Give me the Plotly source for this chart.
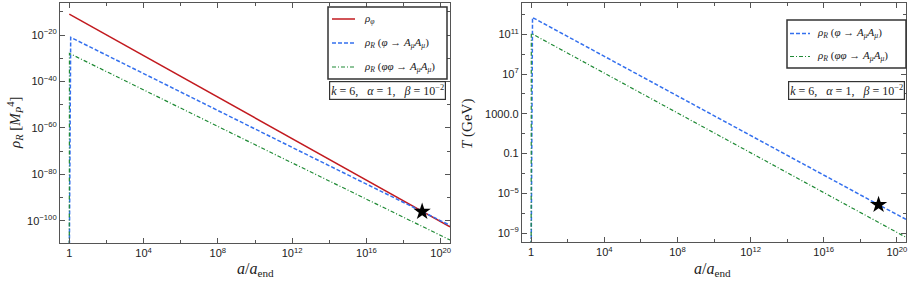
import plotly.graph_objects as go
from plotly.subplots import make_subplots

# ---------------- data ----------------
# left panel: energy densities [M_P^4] vs a/a_end
a_phi = [1.0, 10**20.5]
rho_phi = [1e-11, 10**-102.6]

a_R1 = [1.0, 1.19, 10**12.3, 1e19, 10**20.5]
rho_R1 = [1e-118, 1e-21, 10**-69.6, 10**-96.1, 10**-102.0]

a_R2 = [1.0, 1.02, 10**10.6, 10**20.5]
rho_R2 = [1e-118, 10**-27.9, 10**-69.6, 10**-108.3]

star_a_left = [1e19]
star_rho_left = [10**-96.1]

# right panel: temperature [GeV] vs a/a_end
a_T1 = [1.0, 1.19, 1e19, 10**20.5]
T_R1 = [1e-12, 10**12.7, 10**-6.15, 10**-7.62]

a_T2 = [1.0, 1.02, 10**20.5]
T_R2 = [1e-12, 10**11.1, 10**-9.43]

star_a_right = [1e19]
star_T_right = [10**-6.15]

# tick labels
x_tickvals = [1, 1e4, 1e8, 1e12, 1e16, 1e20]
x_ticktext = ["1", "10<sup>4</sup>", "10<sup>8</sup>", "10<sup>12</sup>", "10<sup>16</sup>", "10<sup>20</sup>"]
x_minor = [1e2, 1e6, 1e10, 1e14, 1e18]

yl_tickvals = [1e-20, 1e-40, 1e-60, 1e-80, 1e-100]
yl_ticktext = ["10<sup>−20</sup>", "10<sup>−40</sup>", "10<sup>−60</sup>", "10<sup>−80</sup>", "10<sup>−100</sup>"]
yl_minor = [1e-10, 1e-30, 1e-50, 1e-70, 1e-90]

yr_tickvals = [1e11, 1e7, 1e3, 1e-1, 1e-5, 1e-9]
yr_ticktext = ["10<sup>11</sup>", "10<sup>7</sup>", "1000.0", "0.1", "10<sup>−5</sup>", "10<sup>−9</sup>"]
yr_minor = [1e13, 1e9, 1e5, 1e1, 1e-3, 1e-7]

# ---------------- styling ----------------
RED = "#c21a1f"
BLUE = "#3470ee"
GREEN = "#1f8a35"
SERIF = "Liberation Serif, DejaVu Serif, serif"
SANS = "Liberation Sans, Arial, sans-serif"
FRAME = "#555555"
DASH_B = "4px,2px"
DASH_G = "4px,2px,1px,2px"

lab_phi = "<i>ρ</i><sub><i>φ</i></sub>"
lab_R1 = "<i>ρ</i><sub><i>R</i></sub> (<i>φ</i> → <i>A</i><sub><i>μ</i></sub><i>A</i><sub><i>μ</i></sub>)"
lab_R2 = "<i>ρ</i><sub><i>R</i></sub> (<i>φφ</i> → <i>A</i><sub><i>μ</i></sub><i>A</i><sub><i>μ</i></sub>)"

fig = make_subplots(rows=1, cols=2)

fig.add_trace(go.Scatter(x=a_phi, y=rho_phi, mode="lines", name=lab_phi,
                         line=dict(color=RED, width=1.5)), 1, 1)
fig.add_trace(go.Scatter(x=a_R1, y=rho_R1, mode="lines", name=lab_R1,
                         line=dict(color=BLUE, width=1.5, dash=DASH_B)), 1, 1)
fig.add_trace(go.Scatter(x=a_R2, y=rho_R2, mode="lines", name=lab_R2,
                         line=dict(color=GREEN, width=1.2, dash=DASH_G)), 1, 1)
fig.add_trace(go.Scatter(x=star_a_left, y=star_rho_left, mode="markers",
                         marker=dict(symbol="star", size=13, color="black")), 1, 1)

fig.add_trace(go.Scatter(x=a_T1, y=T_R1, mode="lines", name=lab_R1,
                         line=dict(color=BLUE, width=1.5, dash=DASH_B)), 1, 2)
fig.add_trace(go.Scatter(x=a_T2, y=T_R2, mode="lines", name=lab_R2,
                         line=dict(color=GREEN, width=1.2, dash=DASH_G)), 1, 2)
fig.add_trace(go.Scatter(x=star_a_right, y=star_T_right, mode="markers",
                         marker=dict(symbol="star", size=13, color="black")), 1, 2)

W, H = 910, 286
def px(x):
    return x / W
def py(y):
    return 1 - y / H

axis_common = dict(type="log", showgrid=False, zeroline=False, showline=True,
                   linecolor=FRAME, linewidth=1.2, mirror="allticks",
                   ticks="inside", ticklen=5, tickcolor=FRAME, tickwidth=1,
                   tickfont=dict(family=SANS, size=11, color="#222"),
                   tickmode="array")

xa = dict(axis_common, range=[-0.5, 20.5], tickvals=x_tickvals, ticktext=x_ticktext,
          minor=dict(tickmode="array", tickvals=x_minor, ticks="inside", ticklen=3, tickcolor=FRAME))
fig.update_xaxes(**xa, domain=[px(60), px(450)], row=1, col=1)
fig.update_xaxes(**xa, domain=[px(522), px(906)], row=1, col=2)

fig.update_yaxes(**axis_common, range=[-109.6, -6.2], tickvals=yl_tickvals, ticktext=yl_ticktext,
                 minor=dict(tickmode="array", tickvals=yl_minor, ticks="inside", ticklen=3, tickcolor=FRAME),
                 domain=[py(243), py(3)], row=1, col=1)
fig.update_yaxes(**axis_common, range=[-9.9, 14.16], tickvals=yr_tickvals, ticktext=yr_ticktext,
                 minor=dict(tickmode="array", tickvals=yr_minor, ticks="inside", ticklen=3, tickcolor=FRAME),
                 domain=[py(242), py(3)], row=1, col=2)

# ---------------- hand-drawn legends ----------------
shapes = []
annotations = []

def legend_box(x0, x1, y0, y1, entries, sx0, sx1, tx):
    shapes.append(dict(type="rect", xref="paper", yref="paper",
                       x0=px(x0), x1=px(x1), y0=py(y1), y1=py(y0),
                       line=dict(color="#333", width=1.5), fillcolor="white", layer="above"))
    for (yy, color, width, dash, label) in entries:
        shapes.append(dict(type="line", xref="paper", yref="paper",
                           x0=px(sx0), x1=px(sx1), y0=py(yy), y1=py(yy),
                           line=dict(color=color, width=width, dash=dash), layer="above"))
        annotations.append(dict(text=label, x=px(tx), y=py(yy), xref="paper", yref="paper",
                                xanchor="left", yanchor="middle", showarrow=False,
                                font=dict(family=SERIF, size=11, color="#222")))

legend_box(328, 447, 7, 79,
           [(19, RED, 1.5, "solid", lab_phi),
            (43, BLUE, 1.5, DASH_B, lab_R1),
            (67, GREEN, 1.2, DASH_G, lab_R2)],
           332, 355, 362)
legend_box(787, 906, 20, 68,
           [(33.5, BLUE, 1.5, DASH_B, lab_R1),
            (56.5, GREEN, 1.2, DASH_G, lab_R2)],
           790, 810, 815)

params = "<i>k</i> = 6,   <i>α</i> = 1,   <i>β</i> = 10<sup>−2</sup>"
for (cx, cy) in [(387.5, 90.5), (846.5, 90.7)]:
    annotations.append(dict(text=params, x=px(cx), y=py(cy), xref="paper", yref="paper",
                            xanchor="center", yanchor="middle",
                            showarrow=False, font=dict(family=SERIF, size=12, color="#222"),
                            bordercolor="#333", borderwidth=1.2, borderpad=1, bgcolor="white"))

for cx in [255, 712]:
    annotations.append(dict(text="<i>a</i>/<i>a</i><sub>end</sub>", x=px(cx), y=py(269),
                            xref="paper", yref="paper", xanchor="center", yanchor="middle",
                            showarrow=False, font=dict(family=SERIF, size=16, color="#222")))
annotations.append(dict(text="<i>ρ</i><sub><i>R</i></sub> [<i>M</i><sub><i>P</i></sub><sup>4</sup>]",
                        x=px(15), y=py(123), xref="paper", yref="paper", textangle=-90,
                        xanchor="center", yanchor="middle",
                        showarrow=False, font=dict(family=SERIF, size=15, color="#222")))
annotations.append(dict(text="<i>T</i> (GeV)", x=px(468), y=py(124), xref="paper", yref="paper",
                        textangle=-90, xanchor="center", yanchor="middle",
                        showarrow=False, font=dict(family=SERIF, size=15, color="#222")))

fig.update_layout(
    width=W, height=H,
    margin=dict(l=0, r=0, t=0, b=0),
    plot_bgcolor="white", paper_bgcolor="white",
    showlegend=False,
    shapes=shapes,
    annotations=annotations,
)

fig.write_html("out.html", config={"displayModeBar": False},
               post_script="document.body.style.margin='0';")
